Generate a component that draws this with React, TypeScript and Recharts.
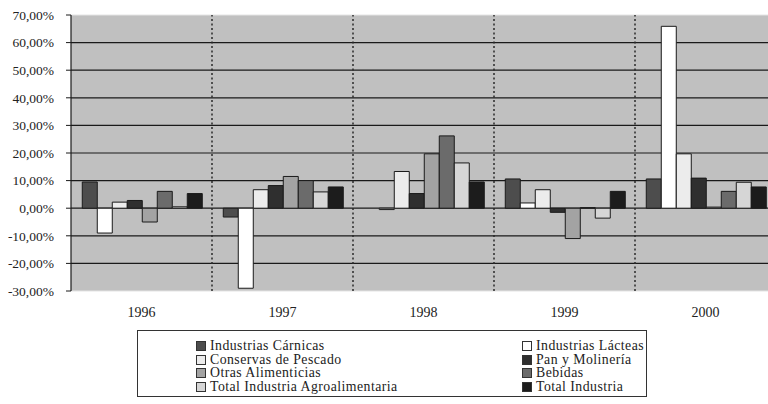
import React from 'react';
import { BarChart, Bar, XAxis, YAxis, CartesianGrid, ReferenceLine } from 'recharts';

const years = ['1996', '1997', '1998', '1999', '2000'];
const carnicas = [9.5, -3.2, 0, 10.6, 10.6];
const lacteas = [-9.0, -29.0, -0.5, 1.9, 65.9];
const conservas = [2.2, 6.7, 13.3, 6.7, 19.7];
const pan = [2.8, 8.2, 5.3, -1.5, 10.9];
const otras = [-5.0, 11.5, 19.7, -11.0, 0.4];
const bebidas = [6.1, 10.0, 26.2, 0.2, 6.1];
const totalAgro = [0.5, 5.9, 16.4, -3.6, 9.4];
const totalInd = [5.3, 7.7, 9.5, 6.1, 7.7];
const yTicks = [-30, -20, -10, 0, 10, 20, 30, 40, 50, 60, 70];

const series = [
  { key: 'carnicas', name: 'Industrias Cárnicas', values: carnicas, color: '#4d4d4d' },
  { key: 'lacteas', name: 'Industrias Lácteas', values: lacteas, color: '#ffffff' },
  { key: 'conservas', name: 'Conservas de Pescado', values: conservas, color: '#ececec' },
  { key: 'pan', name: 'Pan y Molinería', values: pan, color: '#2f2f2f' },
  { key: 'otras', name: 'Otras Alimenticias', values: otras, color: '#a3a3a3' },
  { key: 'bebidas', name: 'Bebidas', values: bebidas, color: '#6b6b6b' },
  { key: 'totalAgro', name: 'Total Industria Agroalimentaria', values: totalAgro, color: '#d6d6d6' },
  { key: 'totalInd', name: 'Total Industria', values: totalInd, color: '#1c1c1c' },
];

const data = years.map((y, i) => {
  const row: Record<string, any> = { year: y };
  series.forEach((s) => {
    row[s.key] = s.values[i];
  });
  return row;
});

// category boundaries: the start of every year band except the first
const separatorYears = years.slice(1);

const fmt = (v: number) => v.toFixed(2).replace('.', ',') + '%';

const FONT = '"Liberation Serif", "DejaVu Serif", serif';

export default function App() {
  const leftCol = series.filter((_, i) => i % 2 === 0);
  const rightCol = series.filter((_, i) => i % 2 === 1);
  const renderItem = (s: any) => (
    <div key={s.key} style={{ display: 'flex', alignItems: 'center', height: 13.7 }}>
      <span
        style={{
          display: 'inline-block',
          width: 8,
          height: 8,
          background: s.color,
          border: '1px solid #333',
          marginRight: 4,
          flexShrink: 0,
        }}
      />
      <span style={{ whiteSpace: 'nowrap' }}>{s.name}</span>
    </div>
  );
  return (
    <div
      style={{
        position: 'absolute',
        left: 0,
        top: 0,
        width: 768,
        height: 404,
        overflow: 'hidden',
        background: '#fff',
        fontFamily: FONT,
      }}
    >
      <BarChart
        width={790}
        height={322}
        data={data}
        margin={{ top: 15, right: 14, bottom: 0, left: 0 }}
        barGap={0}
        barCategoryGap="8%"
      >
        <CartesianGrid
          vertical={false}
          horizontalValues={[-20, -10, 0, 10, 20, 30, 40, 50, 60]}
          stroke="#1a1a1a"
          strokeWidth={1.2}
          fill="#c0c0c0"
          fillOpacity={1}
        />
        <XAxis
          dataKey="year"
          axisLine={false}
          tickLine={false}
          height={31}
          tickMargin={10}
          tick={{ fontSize: 14, fill: '#222', fontFamily: FONT }}
        />
        <YAxis
          domain={[-30, 70]}
          ticks={yTicks}
          width={71}
          tickSize={5}
          tickMargin={12}
          interval={0}
          tickFormatter={fmt}
          axisLine={{ stroke: '#1a1a1a', strokeWidth: 1.2 }}
          tickLine={{ stroke: '#1a1a1a' }}
          tick={{ fontSize: 13.5, fill: '#222', fontFamily: FONT }}
          allowDataOverflow
        />
        <ReferenceLine y={70} stroke="#e4e4e4" />
        <ReferenceLine y={-30} stroke="#e4e4e4" />
        {separatorYears.map((y) => (
          <ReferenceLine
            key={y}
            x={y}
            position="start"
            stroke="#2a2a2a"
            strokeWidth={1.5}
            strokeDasharray="2 2.5"
          />
        ))}
        {series.map((s) => (
          <Bar
            key={s.key}
            dataKey={s.key}
            name={s.name}
            fill={s.color}
            stroke="#1a1a1a"
            strokeWidth={1}
            isAnimationActive={false}
          />
        ))}
      </BarChart>
      <div
        style={{
          position: 'absolute',
          left: 137,
          top: 330,
          width: 510,
          height: 67,
          border: '1px solid #333',
          boxSizing: 'border-box',
          fontSize: 13.8,
          letterSpacing: 0.45,
          color: '#222',
          lineHeight: '13.7px',
        }}
      >
        <div style={{ position: 'absolute', left: 58, top: 8 }}>{leftCol.map(renderItem)}</div>
        <div style={{ position: 'absolute', left: 384, top: 8 }}>{rightCol.map(renderItem)}</div>
      </div>
    </div>
  );
}
